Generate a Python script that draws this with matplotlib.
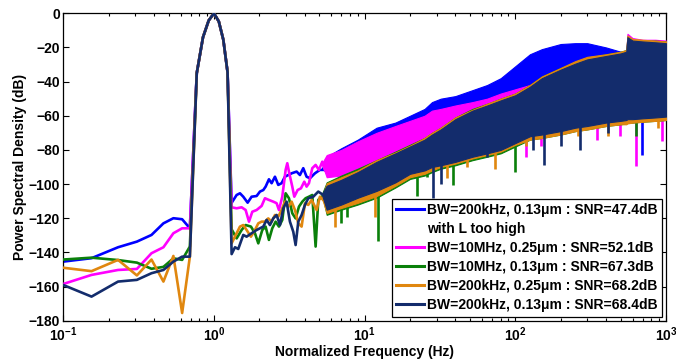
import numpy as np
import matplotlib
matplotlib.use('Agg')
import matplotlib.pyplot as plt
from matplotlib.lines import Line2D

plt.rcParams['font.family'] = ['Liberation Sans', 'DejaVu Sans']
plt.rcParams['font.weight'] = 'bold'
plt.rcParams['mathtext.fontset'] = 'custom'
plt.rcParams['mathtext.rm'] = 'Liberation Sans:bold'
plt.rcParams['mathtext.it'] = 'Liberation Sans:bold'
plt.rcParams['mathtext.bf'] = 'Liberation Sans:bold'
plt.rcParams['mathtext.default'] = 'rm'

# ---------------- data ----------------
names = ['blue', 'magenta', 'green', 'orange', 'navy']
colors = {'blue': '#0000FF', 'magenta': '#FF00FF', 'green': '#0A800A',
          'orange': '#E0870F', 'navy': '#132C6C'}
labels = {'blue': 'BW=200kHz, 0.13\u03bcm : SNR=47.4dB',
          'magenta': 'BW=10MHz, 0.25\u03bcm : SNR=52.1dB',
          'green': 'BW=10MHz, 0.13\u03bcm : SNR=67.3dB',
          'orange': 'BW=200kHz, 0.25\u03bcm : SNR=68.2dB',
          'navy': 'BW=200kHz, 0.13\u03bcm : SNR=68.4dB'}
extra_label = 'with L too high'

# low-frequency bins below the tone
f_pre = [0.1, 0.154, 0.231, 0.308, 0.385, 0.462, 0.538, 0.615, 0.692]
pre_db = {
    'blue':    [-145.4, -143.4, -137.0, -133.7, -129.8, -123.0, -120.0, -120.6, -125.9],
    'magenta': [-158.5, -153.2, -150.3, -149.7, -140.5, -137.0, -128.8, -125.9, -125.9],
    'green':   [-144.2, -143.1, -144.5, -146.0, -149.6, -148.5, -143.5, -144.4, -136.6],
    'orange':  [-149.0, -151.0, -144.4, -153.5, -144.2, -157.1, -142.1, -175.5, -142.5],
    'navy':    [-159.1, -165.9, -157.1, -156.1, -152.2, -150.3, -145.4, -142.5, -142.5],
}
# the tone (common to all)
peak_f = [0.769, 0.846, 0.923, 1.0, 1.077, 1.154, 1.231]
peak_db = [-35.0, -14.0, -4.2, 0.0, -4.8, -15.5, -34.5]

# bins above the tone, up to ~5 Hz
post_f = {
    'blue': [1.310, 1.414, 1.488, 1.565, 1.673, 1.778, 1.919, 2.020, 2.125, 2.203, 2.317,
             2.414, 2.540, 2.672, 2.811, 2.958, 3.277, 3.537, 3.721, 3.915, 4.119, 4.335,
             4.679, 5.05, 5.453],
    'magenta': [1.310, 1.414, 1.526, 1.623, 1.708, 1.797, 1.919, 2.072, 2.180, 2.317, 2.475,
                2.605, 2.700, 2.841, 2.990, 3.067, 3.162, 3.310, 3.413, 3.591, 3.779, 3.976,
                4.120, 4.270, 4.493, 4.728, 4.975, 5.235, 5.453],
    'green': [1.310, 1.414, 1.526, 1.623, 1.760, 1.871, 1.969, 2.093, 2.202, 2.317, 2.438,
              2.566, 2.700, 2.841, 2.990, 3.146, 3.310, 3.483, 3.666, 3.858, 4.058, 4.270,
              4.493, 4.728, 4.923, 5.181, 5.453],
    'orange': [1.310, 1.414, 1.488, 1.565, 1.647, 1.760, 1.871, 1.969, 2.072, 2.180, 2.293,
               2.413, 2.540, 2.672, 2.811, 2.958, 3.113, 3.277, 3.448, 3.628, 3.817, 4.017,
               4.227, 4.447, 4.801, 5.05, 5.453],
    'navy': [1.310, 1.379, 1.450, 1.565, 1.647, 1.778, 1.919, 2.020, 2.125, 2.236, 2.353,
             2.475, 2.605, 2.742, 2.885, 3.035, 3.193, 3.360, 3.483, 3.628, 3.817, 4.017,
             4.227, 4.563, 4.923, 5.316],
}
post_db = {
    'blue': [-111.0, -106.4, -105.4, -107.4, -110.9, -107.4, -107.0, -104.4, -103.5, -101.5,
             -97.2, -99.5, -95.7, -100.5, -99.5, -95.7, -93.7, -92.7, -94.7, -90.7, -95.7,
             -96.6, -93.7, -91.7, -91.7],
    'magenta': [-113.6, -114.2, -113.6, -115.2, -122.0, -116.2, -115.2, -112.8, -108.3, -109.3,
                -110.3, -111.2, -115.2, -107.4, -91.7, -87.8, -93.7, -101.5, -107.4, -103.5,
                -102.5, -98.6, -101.5, -99.5, -90.7, -88.8, -91.7, -86.9, -91.7],
    'green': [-126.5, -131.8, -126.9, -124.0, -124.9, -128.8, -134.7, -126.9, -124.9, -132.7,
              -125.9, -122.0, -124.9, -121.0, -105.4, -108.3, -117.1, -120.1, -113.2, -110.3,
              -108.3, -107.4, -106.4, -136.6, -109.3, -107.4, -106.4],
    'orange': [-134.7, -128.8, -124.9, -124.0, -126.9, -130.8, -126.9, -123.0, -122.0, -122.0,
               -120.1, -122.0, -118.1, -119.1, -115.2, -110.3, -113.2, -110.3, -115.2, -123.0,
               -124.9, -111.3, -112.2, -109.3, -115.2, -107.4, -110.3],
    'navy': [-141.0, -137.0, -138.0, -129.8, -130.8, -128.8, -126.9, -125.9, -124.9, -121.0,
             -124.0, -120.1, -118.1, -124.0, -114.2, -110.3, -122.0, -127.9, -135.7, -122.0,
             -118.1, -112.2, -108.3, -107.4, -104.4, -106.4],
}

# dense high-frequency part: upper / lower envelopes of each trace
f_env = [5.2, 5.6, 7, 9, 12, 16, 20, 25, 28, 32, 40, 52, 65, 80, 100, 125, 150, 200, 250,
         300, 400, 500, 545, 555, 600, 700, 850, 1000]
env_upper = {
    'blue':    [-91, -84, -79, -74, -67, -64, -60, -56, -52, -50, -48.5, -45, -42, -38, -31,
                -24, -21, -18, -17.5, -17.5, -20, -22.5, -23, -15, -16.5, -17, -17.5, -18],
    'magenta': [-88, -83, -80, -75, -70, -66, -63, -60, -57, -56, -54, -52, -50, -47, -44.5,
                -42, -40, -34, -30, -27.5, -25.5, -24, -23, -12, -14.5, -15.5, -15.5, -16],
    'green':   [-106, -99, -95, -91, -86, -81, -77, -73, -70, -67, -61, -56, -53, -50, -47,
                -42, -37, -32, -28.5, -26, -24, -22.5, -21.5, -13.5, -15.5, -16, -16, -16.5],
    'orange':  [-108, -99.5, -96, -92, -86, -81.5, -77.5, -73, -70, -67, -61, -56.5, -53, -50,
                -47, -42, -37, -32, -28, -25.5, -24, -22.5, -21.5, -13, -15, -15.5, -16, -16.5],
    'navy':    [-106, -101, -97.5, -93, -87, -82, -78, -74, -71, -68, -62, -57, -54, -51, -48,
                -43, -38, -33, -29.5, -27, -25, -23.5, -22.5, -14, -16, -16.5, -17, -17.5],
}
env_lower = {
    'blue':    [-91, -93, -92, -89, -86, -82, -78, -75, -73, -71, -68, -65, -62, -60, -58,
                -56, -54, -53, -52, -51, -50, -50, -50, -50, -50, -50, -50, -50],
    'magenta': [-88, -96, -95, -91, -88, -84, -80, -77, -75, -73, -70, -67, -64, -62, -60,
                -58, -56, -55, -55, -55, -55, -55, -55, -55, -55, -55, -55, -55],
    'green':   [-106, -118, -115, -112, -108, -102, -97, -95, -93, -91, -89, -86, -84, -82,
                -78, -74, -73, -71, -69, -68, -66, -65, -64.5, -64, -64, -63.5, -63, -62.5],
    'orange':  [-108, -117, -114, -111, -107, -101, -96, -94, -92, -90, -88, -85, -83, -81,
                -77, -74, -73, -71, -69, -68, -66, -65, -65, -64.5, -64, -63.5, -63, -62.5],
    'navy':    [-106, -115, -112, -108, -104, -99, -94, -92, -90, -89, -87, -84, -82, -80,
                -76, -72, -71, -69, -67, -66, -64, -63, -62.5, -62, -62, -61.5, -61, -60.5],
}
# deep downward spikes of the dense part: (frequency, bottom level)
spike_f = {
    'blue': [689],
    'magenta': [118, 149, 346, 494, 637, 934],
    'green': [7.0, 7.6, 12.3, 22.2, 26, 38.7, 100, 637],
    'orange': [6.35, 11.7, 35, 48, 73, 118, 260, 413, 880],
    'navy': [28.6, 32.3, 64.5, 131, 155, 202, 268, 412],
}
spike_db = {
    'blue': [-83],
    'magenta': [-84, -78, -74, -72, -89.5, -75],
    'green': [-123, -119, -133.5, -107, -96, -100.5, -93, -72],
    'orange': [-125, -119, -96.5, -90, -91, -78, -72, -72, -67],
    'navy': [-108, -100, -84, -80, -89, -78, -80, -70],
}

yticks = list(range(-180, 1, 20))

# ---------------- figure ----------------
fig = plt.figure(figsize=(6.76, 3.6), dpi=100)
ax = fig.add_axes([0.0936, 0.1092, 0.8916, 0.8539])

for z, n in enumerate(names, start=2):
    c = colors[n]
    ax.fill_between(f_env, env_lower[n], env_upper[n], color=c, lw=0.8,
                    edgecolor=c, zorder=z)
    fl = f_pre + peak_f + post_f[n]
    dl = pre_db[n] + peak_db + post_db[n]
    ax.plot(fl, dl, color=c, lw=1.9, zorder=z)
    sf = np.array(spike_f[n], dtype=float)
    top = np.interp(np.log10(sf), np.log10(f_env), env_lower[n]) + 2
    ax.vlines(sf, top, spike_db[n], color=c, lw=1.9, zorder=z)

ax.set_xscale('log')
ax.set_xlim(0.1, 1000)
ax.set_ylim(-180, 0)
ax.set_yticks(yticks)
ax.tick_params(which='both', direction='in', top=True, right=True,
               labelsize=10, width=0.8)
ax.tick_params(which='major', length=4.5, pad=2.5)
ax.tick_params(which='minor', length=2.5)
ax.tick_params(axis='x', which='major', pad=3.5)
for sp in ax.spines.values():
    sp.set_linewidth(0.9)
for lab in ax.get_yticklabels():
    lab.set_fontweight('bold')

ax.set_xlabel('Normalized Frequency (Hz)', fontsize=10, fontweight='bold', labelpad=0.5)
ax.set_ylabel('Power Spectral Density (dB)', fontsize=10, fontweight='bold', labelpad=1)

handles = [Line2D([], [], color=colors['blue'], lw=2.2),
           Line2D([], [], color='none', lw=2.2)]
labs = [labels['blue'], extra_label]
for n in names[1:]:
    handles.append(Line2D([], [], color=colors[n], lw=2.2))
    labs.append(labels[n])
leg = ax.legend(handles, labs, loc='lower right', fontsize=10, frameon=True,
                fancybox=False, edgecolor='black', framealpha=1,
                handlelength=2.0, handletextpad=0.25, labelspacing=0.36,
                borderpad=0.3, borderaxespad=0.3)
leg.get_frame().set_linewidth(0.9)
for t in leg.get_texts():
    t.set_fontweight('bold')
leg.set_zorder(20)

fig.savefig('out.png', dpi=100)
